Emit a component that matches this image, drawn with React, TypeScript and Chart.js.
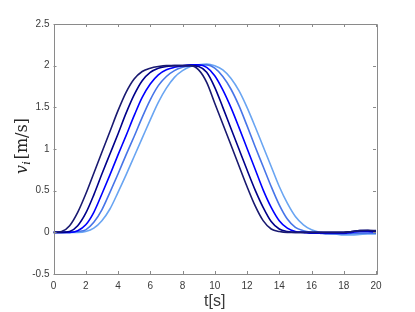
import React, { useEffect, useRef } from 'react';
import { Chart, registerables } from 'chart.js';

Chart.register(...registerables);

const timeS = [0, 0.5, 1, 1.5, 2, 2.5, 3, 3.5, 4, 4.5, 5, 5.5, 6, 6.5, 7, 7.5, 8, 8.5, 9, 9.5, 10, 10.5, 11, 11.5, 12, 12.5, 13, 13.5, 14, 14.5, 15, 15.5, 16, 16.5, 17, 17.5, 18, 18.5, 19, 19.5, 20];

const v1 = [0, 0.01, 0.08, 0.24, 0.46, 0.71, 0.96, 1.21, 1.46, 1.68, 1.84, 1.93, 1.97, 1.99, 2.0, 2.0, 2.0, 2.0, 1.95, 1.8, 1.55, 1.3, 1.05, 0.8, 0.55, 0.32, 0.14, 0.04, 0.01, 0, 0, 0, 0, 0, 0, 0, 0, 0.01, 0.02, 0.025, 0.02];
const v2 = [0, 0, 0.01, 0.08, 0.23, 0.45, 0.7, 0.94, 1.18, 1.43, 1.65, 1.82, 1.92, 1.97, 1.99, 2.0, 2.0, 2.0, 1.99, 1.92, 1.74, 1.5, 1.25, 1.0, 0.75, 0.51, 0.3, 0.13, 0.04, 0.01, 0, 0, 0, 0, 0, 0, 0, 0.01, 0.02, 0.02, 0.01];
const v3 = [0, 0, 0, 0.02, 0.09, 0.24, 0.46, 0.69, 0.93, 1.16, 1.4, 1.62, 1.78, 1.89, 1.95, 1.98, 2.0, 2.01, 2.01, 1.98, 1.88, 1.71, 1.5, 1.26, 1.01, 0.76, 0.51, 0.3, 0.14, 0.05, 0.01, 0, -0.01, -0.01, -0.01, -0.01, -0.01, 0, 0.01, 0.01, 0];
const v4 = [0, 0, 0, 0.01, 0.03, 0.12, 0.27, 0.48, 0.7, 0.93, 1.15, 1.38, 1.59, 1.76, 1.87, 1.94, 1.98, 2.0, 2.01, 2.01, 1.97, 1.87, 1.72, 1.52, 1.28, 1.03, 0.79, 0.55, 0.33, 0.16, 0.06, 0.02, 0, -0.01, -0.02, -0.02, -0.02, -0.01, -0.01, -0.01, -0.01];
const v5 = [0, 0, 0, 0, 0.01, 0.05, 0.14, 0.28, 0.48, 0.69, 0.91, 1.13, 1.35, 1.56, 1.73, 1.86, 1.94, 1.99, 2.01, 2.02, 2.0, 1.95, 1.85, 1.7, 1.5, 1.27, 1.03, 0.79, 0.55, 0.35, 0.19, 0.09, 0.03, 0, -0.01, -0.02, -0.03, -0.03, -0.025, -0.02, -0.02];

const seriesValues = [v1, v2, v3, v4, v5];
const seriesColors = ['#191970', '#00008B', '#0000FF', '#4775E8', '#6AA5F2'];

const xTicks = [0, 2, 4, 6, 8, 10, 12, 14, 16, 18, 20];
const xTickLabels = ['0', '2', '4', '6', '8', '10', '12', '14', '16', '18', '20'];
const yTicks = [-0.5, 0, 0.5, 1, 1.5, 2, 2.5];
const yTickLabels = ['-0.5', '0', '0.5', '1', '1.5', '2', '2.5'];

const xTitle = 't[s]';
const yTitleVar = 'v';
const yTitleSub = 'i';
const yTitleUnit = '[m/s]';

const AXIS_COLOR = '#8a8a8a';
const LABEL_COLOR = '#3a3a3a';
const TICK_LEN = 3;

const boxPlugin = {
  id: 'matlabBox',
  afterDraw(chart: any) {
    const { ctx, chartArea } = chart;
    const { left, right, top, bottom } = chartArea;
    const xs = chart.scales.x;
    const ys = chart.scales.y;
    ctx.save();
    ctx.strokeStyle = AXIS_COLOR;
    ctx.lineWidth = 1;
    ctx.beginPath();
    ctx.rect(Math.round(left) + 0.5, Math.round(top) + 0.5, Math.round(right - left), Math.round(bottom - top));
    ctx.stroke();
    ctx.beginPath();
    xTicks.forEach((t) => {
      const px = Math.round(xs.getPixelForValue(t)) + 0.5;
      ctx.moveTo(px, bottom);
      ctx.lineTo(px, bottom - TICK_LEN);
      ctx.moveTo(px, top);
      ctx.lineTo(px, top + TICK_LEN);
    });
    yTicks.forEach((t) => {
      const py = Math.round(ys.getPixelForValue(t)) + 0.5;
      ctx.moveTo(left, py);
      ctx.lineTo(left + TICK_LEN, py);
      ctx.moveTo(right, py);
      ctx.lineTo(right - TICK_LEN, py);
    });
    ctx.stroke();

    // x title
    ctx.fillStyle = LABEL_COLOR;
    ctx.font = '16px "Liberation Sans", Arial, sans-serif';
    ctx.textAlign = 'center';
    ctx.textBaseline = 'middle';
    ctx.fillText(xTitle, (left + right) / 2, bottom + 28);

    // y title (rotated)
    ctx.fillStyle = '#262626';
    ctx.translate(left - 27, (top + bottom) / 2 - 3);
    ctx.rotate(-Math.PI / 2);
    ctx.textAlign = 'left';
    ctx.textBaseline = 'alphabetic';
    const fMain = 'italic 16px "DejaVu Serif", serif';
    const fSub = 'italic 11px "DejaVu Serif", serif';
    const fUnit = '16px "DejaVu Serif", serif';
    ctx.font = fMain;
    const wV = ctx.measureText(yTitleVar).width;
    ctx.font = fSub;
    const wI = ctx.measureText(yTitleSub).width;
    ctx.font = fUnit;
    const wU = ctx.measureText(yTitleUnit).width;
    const gap = 2;
    const total = wV + wI + gap + wU;
    let x0 = -total / 2;
    ctx.font = fMain;
    ctx.fillText(yTitleVar, x0, 0);
    x0 += wV;
    ctx.font = fSub;
    ctx.fillText(yTitleSub, x0, 3);
    x0 += wI + gap;
    ctx.font = fUnit;
    ctx.fillText(yTitleUnit, x0, 0);
    ctx.restore();
  },
};

export default function App() {
  const canvasRef = useRef<HTMLCanvasElement | null>(null);

  useEffect(() => {
    document.body.style.margin = '0';
    const canvas = canvasRef.current;
    if (!canvas) return;
    const datasets = seriesValues.map((vals, i) => ({
      label: 'v' + (i + 1),
      data: timeS.map((t, j) => ({ x: t, y: vals[j] })),
      borderColor: seriesColors[i],
      backgroundColor: seriesColors[i],
      borderWidth: 1.6,
      pointRadius: 0,
      fill: false,
      cubicInterpolationMode: 'monotone' as const,
    }));
    const tickFont = { family: '"Liberation Sans", Arial, sans-serif', size: 10 };
    const chart = new Chart(canvas, {
      type: 'line',
      data: { datasets },
      options: {
        animation: false,
        responsive: false,
        devicePixelRatio: 1,
        layout: { padding: { top: 24, right: 39, left: 0, bottom: 0 } },
        plugins: { legend: { display: false }, tooltip: { enabled: false } },
        scales: {
          x: {
            type: 'linear',
            min: 0,
            max: 20,
            afterBuildTicks: (s: any) => {
              s.ticks = xTicks.map((v) => ({ value: v }));
            },
            afterFit: (s: any) => {
              s.height = 38;
            },
            grid: { display: false, drawTicks: false },
            border: { display: false },
            ticks: {
              autoSkip: false,
              maxRotation: 0,
              padding: 6,
              color: LABEL_COLOR,
              font: tickFont,
              callback: (v: any) => {
                const i = xTicks.indexOf(Number(v));
                return i >= 0 ? xTickLabels[i] : '';
              },
            },
          },
          y: {
            type: 'linear',
            min: -0.5,
            max: 2.5,
            afterBuildTicks: (s: any) => {
              s.ticks = yTicks.map((v) => ({ value: v }));
            },
            afterFit: (s: any) => {
              s.width = 53.5;
            },
            grid: { display: false, drawTicks: false },
            border: { display: false },
            ticks: {
              autoSkip: false,
              padding: 4,
              color: LABEL_COLOR,
              font: tickFont,
              callback: (v: any) => {
                const i = yTicks.indexOf(Number(v));
                return i >= 0 ? yTickLabels[i] : '';
              },
            },
          },
        },
      },
      plugins: [boxPlugin],
    });
    return () => chart.destroy();
  }, []);

  return (
    <div style={{ width: 415, height: 312, background: '#ffffff' }}>
      <canvas ref={canvasRef} width={415} height={312} style={{ display: 'block' }} />
    </div>
  );
}
